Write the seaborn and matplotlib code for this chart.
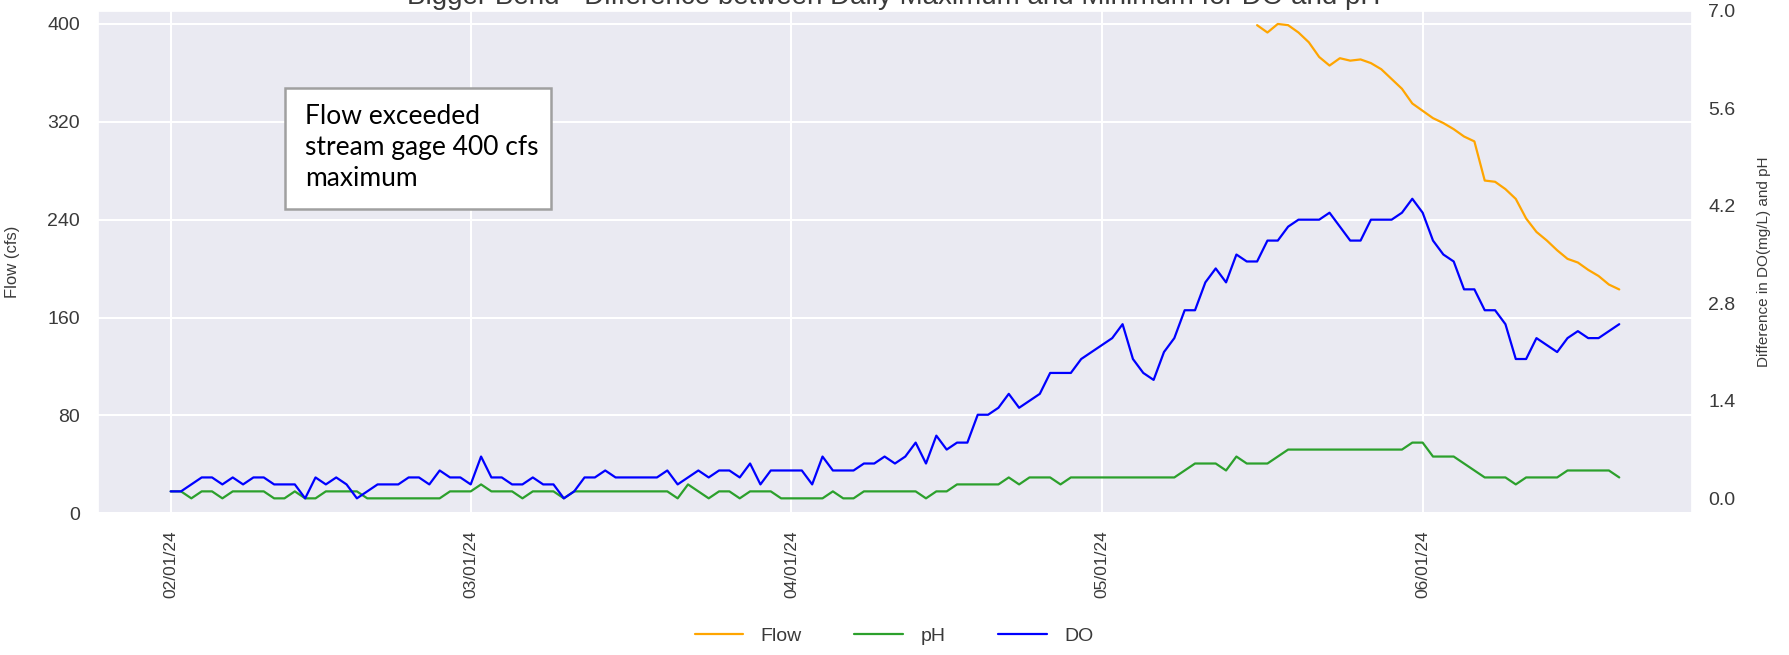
import numpy as np
import pandas as pd
import matplotlib
matplotlib.use("Agg")
import matplotlib.pyplot as plt
import matplotlib.dates as mdates
from matplotlib.patches import Rectangle
import seaborn as sns

# daily max - min (starts 02/01/24)
wq_start = "2024-02-01"
do_diff = [0.1, 0.1, 0.2, 0.3, 0.3, 0.2, 0.3, 0.2, 0.3, 0.3,
           0.2, 0.2, 0.2, 0.0, 0.3, 0.2, 0.3, 0.2, 0.0, 0.1,
           0.2, 0.2, 0.2, 0.3, 0.3, 0.2, 0.4, 0.3, 0.3, 0.2,
           0.6, 0.3, 0.3, 0.2, 0.2, 0.3, 0.2, 0.2, 0.0, 0.1,
           0.3, 0.3, 0.4, 0.3, 0.3, 0.3, 0.3, 0.3, 0.4, 0.2,
           0.3, 0.4, 0.3, 0.4, 0.4, 0.3, 0.5, 0.2, 0.4, 0.4,
           0.4, 0.4, 0.2, 0.6, 0.4, 0.4, 0.4, 0.5, 0.5, 0.6,
           0.5, 0.6, 0.8, 0.5, 0.9, 0.7, 0.8, 0.8, 1.2, 1.2,
           1.3, 1.5, 1.3, 1.4, 1.5, 1.8, 1.8, 1.8, 2.0, 2.1,
           2.2, 2.3, 2.5, 2.0, 1.8, 1.7, 2.1, 2.3, 2.7, 2.7,
           3.1, 3.3, 3.1, 3.5, 3.4, 3.4, 3.7, 3.7, 3.9, 4.0,
           4.0, 4.0, 4.1, 3.9, 3.7, 3.7, 4.0, 4.0, 4.0, 4.1,
           4.3, 4.1, 3.7, 3.5, 3.4, 3.0, 3.0, 2.7, 2.7, 2.5,
           2.0, 2.0, 2.3, 2.2, 2.1, 2.3, 2.4, 2.3, 2.3, 2.4,
           2.5]
ph_diff = [0.1, 0.1, 0.0, 0.1, 0.1, 0.0, 0.1, 0.1, 0.1, 0.1,
           0.0, 0.0, 0.1, 0.0, 0.0, 0.1, 0.1, 0.1, 0.1, 0.0,
           0.0, 0.0, 0.0, 0.0, 0.0, 0.0, 0.0, 0.1, 0.1, 0.1,
           0.2, 0.1, 0.1, 0.1, 0.0, 0.1, 0.1, 0.1, 0.0, 0.1,
           0.1, 0.1, 0.1, 0.1, 0.1, 0.1, 0.1, 0.1, 0.1, 0.0,
           0.2, 0.1, 0.0, 0.1, 0.1, 0.0, 0.1, 0.1, 0.1, 0.0,
           0.0, 0.0, 0.0, 0.0, 0.1, 0.0, 0.0, 0.1, 0.1, 0.1,
           0.1, 0.1, 0.1, 0.0, 0.1, 0.1, 0.2, 0.2, 0.2, 0.2,
           0.2, 0.3, 0.2, 0.3, 0.3, 0.3, 0.2, 0.3, 0.3, 0.3,
           0.3, 0.3, 0.3, 0.3, 0.3, 0.3, 0.3, 0.3, 0.4, 0.5,
           0.5, 0.5, 0.4, 0.6, 0.5, 0.5, 0.5, 0.6, 0.7, 0.7,
           0.7, 0.7, 0.7, 0.7, 0.7, 0.7, 0.7, 0.7, 0.7, 0.7,
           0.8, 0.8, 0.6, 0.6, 0.6, 0.5, 0.4, 0.3, 0.3, 0.3,
           0.2, 0.3, 0.3, 0.3, 0.3, 0.4, 0.4, 0.4, 0.4, 0.4,
           0.3]

# flow only after the gage came back under 400 cfs
flow_start = "2024-05-16"
flow = [399, 393, 400, 399, 393, 385, 373, 366, 372, 370,
        371, 368, 363, 355, 347, 335, 329, 323, 319, 314,
        308, 304, 272, 271, 265, 257, 241, 230, 223, 215,
        208, 205, 199, 194, 187, 183]

wq = pd.DataFrame({"date": pd.date_range(wq_start, periods=len(do_diff), freq="D"),
                   "pH": ph_diff, "DO": do_diff})
fl = pd.DataFrame({"date": pd.date_range(flow_start, periods=len(flow), freq="D"),
                   "Flow": flow})

sns.set_theme(style="darkgrid", rc={"grid.linewidth": 1.5})
plt.rcParams["font.family"] = ["Liberation Sans", "DejaVu Sans"]
txt = "#3a3a3a"

fig = plt.figure(figsize=(17.89, 6.55), dpi=100)
ax1 = fig.add_axes([0.0549, 0.2163, 0.8907, 0.7674])
sns.lineplot(data=fl, x="date", y="Flow", color="orange", lw=1.6, label="Flow", ax=ax1)

ax2 = ax1.twinx()
sns.lineplot(data=wq, x="date", y="pH", color="tab:green", lw=1.6, label="pH", ax=ax2)
sns.lineplot(data=wq, x="date", y="DO", color="blue", lw=1.6, label="DO", ax=ax2)
ax2.grid(False)

# x range: data span plus 5% each side
span = wq["date"].iloc[-1] - wq["date"].iloc[0]
ax1.set_xlim(wq["date"].iloc[0] - span * 0.05, wq["date"].iloc[-1] + span * 0.05)
ax1.xaxis.set_major_locator(mdates.MonthLocator())
ax1.xaxis.set_major_formatter(mdates.DateFormatter("%m/%d/%y"))
ax1.tick_params(axis="x", labelrotation=90, labelsize=12.5, pad=12, length=0, labelcolor=txt)
ax1.set_xlabel("")

fmax, fmin = max(flow), min(flow)
ax1.set_ylim(0, fmax + 0.05 * (fmax - fmin))
ax1.set_yticks(np.arange(0, 401, 80))
ax1.tick_params(axis="y", labelsize=14, pad=13, length=0, labelcolor=txt)
ax1.set_ylabel("Flow (cfs)", fontsize=12, color=txt)
ax1.yaxis.set_label_coords(-0.049, 0.5)

lo = min(min(do_diff), min(ph_diff))
hi = max(max(do_diff), max(ph_diff))
ax2.set_ylim(lo - 0.05 * (hi - lo), 7.0)
ax2.set_yticks(np.linspace(0, 7, 6))
ax2.yaxis.set_major_formatter(matplotlib.ticker.FormatStrFormatter("%.1f"))
ax2.tick_params(axis="y", labelsize=14, pad=12, length=0, labelcolor=txt)
ax2.set_ylabel("Difference in DO(mg/L) and pH", fontsize=11, color=txt)
ax2.yaxis.set_label_coords(1.041, 0.5)
for s in ax2.spines.values():
    s.set_visible(False)

h1, l1 = ax1.get_legend_handles_labels()
h2, l2 = ax2.get_legend_handles_labels()
ax1.get_legend().remove()
ax2.get_legend().remove()
leg = fig.legend(h1 + h2, l1 + l2, loc="center", bbox_to_anchor=(0.4997, 1 - 636 / 655),
                 ncol=3, frameon=False, fontsize=14, handlelength=2.5,
                 handletextpad=0.9, columnspacing=2.7)
for t in leg.get_texts():
    t.set_color(txt)

# title sits partly above the top edge, as in the source image
fig.text(0.4997, 1 - 4 / 655, "Bigger Bend - Difference between Daily Maximum and Minimum for DO and pH",
         ha="center", va="baseline", fontsize=20, color=txt)

# note box
fig.add_artist(Rectangle((285 / 1789, 1 - 209 / 655), 266 / 1789, 121 / 655,
                         transform=fig.transFigure, facecolor="white",
                         edgecolor="#a0a0a0", lw=1.8, zorder=5))
fig.text(305 / 1789, 1 - 148 / 655, "Flow exceeded\nstream gage 400 cfs\nmaximum",
         ha="left", va="center", fontsize=19, family=["Lato", "DejaVu Sans"],
         linespacing=1.3, color="black", zorder=6)

fig.savefig("out.png", dpi=100)
